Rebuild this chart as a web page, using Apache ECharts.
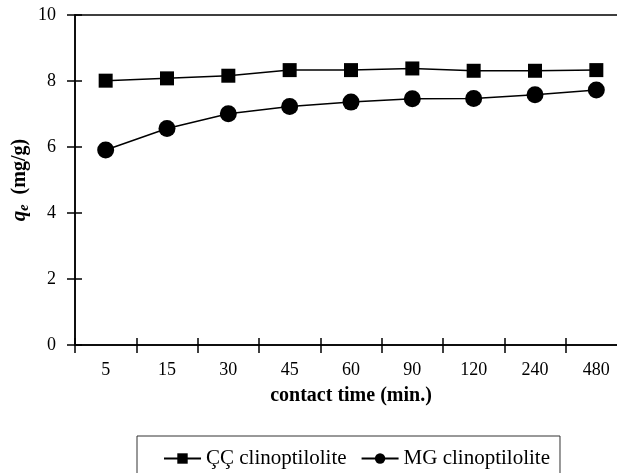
<!DOCTYPE html>
<html>
<head>
<meta charset="utf-8">
<script src="https://cdn.jsdelivr.net/npm/echarts@6/dist/echarts.min.js"></script>
<style>
  html, body { margin: 0; padding: 0; background: #fff; }
  #main { width: 617px; height: 473px; }
</style>
</head>
<body>
<div id="main"></div>
<script>
// contact time categories and uptake values
var times = ['5', '15', '30', '45', '60', '90', '120', '240', '480']
var ccValues = [8.01, 8.08, 8.16, 8.33, 8.33, 8.38, 8.31, 8.31, 8.33]
var mgValues = [5.91, 6.56, 7.01, 7.23, 7.36, 7.46, 7.47, 7.58, 7.73]
var seriesNames = ['ÇÇ clinoptilolite', 'MG clinoptilolite']

var chart = echarts.init(document.getElementById('main'))
var serif = 'Liberation Serif'
var black = '#000'
var tickStyle = { color: black, width: 1.5 }

var option = {
  animation: false,
  grid: {
    left: 75,
    top: 15,
    right: -10,
    bottom: 128,
    outerBoundsMode: 'none',
    containLabel: false,
    show: true,
    borderColor: black,
    borderWidth: 1.5
  },
  legend: {
    data: seriesNames,
    left: 137,
    top: 436,
    padding: [12, 10, 30, 26],
    itemWidth: 37,
    itemHeight: 13,
    itemGap: 14,
    borderColor: '#333',
    borderWidth: 1,
    textStyle: { fontFamily: serif, fontSize: 21, color: black }
  },
  xAxis: [{
    type: 'category',
    data: times,
    axisLine: { lineStyle: tickStyle },
    axisTick: { show: true, inside: false, length: 8, lineStyle: tickStyle },
    axisLabel: { fontFamily: serif, fontSize: 18, color: black, margin: 16 },
    name: 'contact time (min.)',
    nameLocation: 'middle',
    nameGap: 41,
    nameTextStyle: { fontFamily: serif, fontSize: 20, fontWeight: 'bold', color: black }
  }, {
    // inner half of the crossing ticks
    type: 'category',
    data: times,
    position: 'bottom',
    axisLine: { show: false },
    axisTick: { show: true, inside: true, length: 7, lineStyle: tickStyle },
    axisLabel: { show: false }
  }],
  yAxis: [{
    type: 'value',
    min: 0,
    max: 10,
    interval: 2,
    splitLine: { show: false },
    axisLine: { show: true, lineStyle: tickStyle },
    axisTick: { show: true, inside: false, length: 8, lineStyle: tickStyle },
    axisLabel: { fontFamily: serif, fontSize: 18, color: black, margin: 19 },
    name: '{q|q}{e|e}{u|  (mg/g)}',
    nameLocation: 'middle',
    nameGap: 44,
    nameMoveOverlap: false,
    nameRotate: 90,
    nameTextStyle: {
      rich: {
        q: { fontFamily: serif, fontSize: 21, fontStyle: 'italic', fontWeight: 'bold', color: black },
        e: { fontFamily: serif, fontSize: 14, fontStyle: 'italic', fontWeight: 'bold', color: black, verticalAlign: 'bottom', padding: [9, 0, 0, 0] },
        u: { fontFamily: serif, fontSize: 20, fontWeight: 'bold', color: black }
      }
    }
  }, {
    // inner half of the crossing ticks
    type: 'value',
    min: 0,
    max: 10,
    interval: 2,
    position: 'left',
    splitLine: { show: false },
    axisLine: { show: false },
    axisTick: { show: true, inside: true, length: 7, lineStyle: tickStyle },
    axisLabel: { show: false }
  }],
  series: [{
    name: seriesNames[0],
    type: 'line',
    data: ccValues,
    symbol: 'rect',
    symbolSize: 14,
    color: black,
    lineStyle: { color: black, width: 1.5 },
    itemStyle: { color: black }
  }, {
    name: seriesNames[1],
    type: 'line',
    data: mgValues,
    symbol: 'circle',
    symbolSize: 17,
    color: black,
    lineStyle: { color: black, width: 1.5 },
    itemStyle: { color: black }
  }]
}

chart.setOption(option)
</script>
</body>
</html>
